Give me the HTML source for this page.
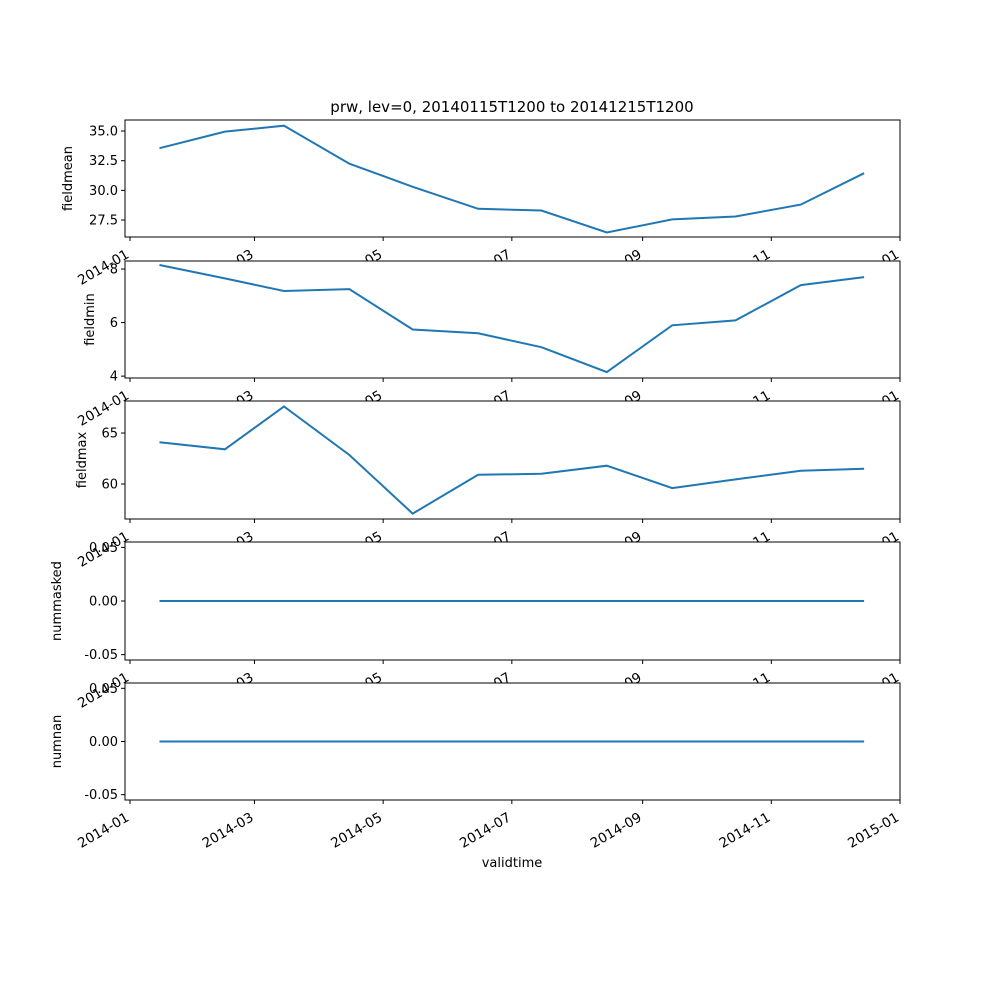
<!DOCTYPE html>
<html><head><meta charset="utf-8"><style>
body{margin:0;background:#fff}
svg{font-family:"DejaVu Sans","Liberation Sans",sans-serif}
</style></head><body>
<svg id="c" width="1000" height="1000"></svg>
<script>
const months=["2014-01-15","2014-02-15","2014-03-15","2014-04-15","2014-05-15","2014-06-15","2014-07-15","2014-08-15","2014-09-15","2014-10-15","2014-11-15","2014-12-15"];
const fieldmean=[33.55,34.95,35.45,32.25,30.3,28.45,28.3,26.45,27.55,27.8,28.8,31.45];
const fieldmin=[8.15,7.65,7.18,7.25,5.74,5.6,5.08,4.15,5.9,6.08,7.4,7.7];
const fieldmax=[64.1,63.4,67.6,62.85,57.1,60.9,61.0,61.8,59.6,60.45,61.3,61.5];
const nummasked=[0,0,0,0,0,0,0,0,0,0,0,0];
const numnan=[0,0,0,0,0,0,0,0,0,0,0,0];
const xTicks=["2014-01","2014-03","2014-05","2014-07","2014-09","2014-11","2015-01"];
const ns="http://www.w3.org/2000/svg";
const svg=document.getElementById('c');
function el(t,a,p){const e=document.createElementNS(ns,t);for(const k in a)e.setAttribute(k,a[k]);(p||svg).appendChild(e);return e;}
const t0=Date.UTC(2014,0,1),t1=Date.UTC(2015,0,1);
function X(d){const [y,m,dd]=d.split('-').map(Number);const t=Date.UTC(y,m-1,dd||1);return 130+(t-t0)/(t1-t0)*770;}
const panels=[
 {name:"fieldmean",data:fieldmean,top:120,bot:237,min:26.07,max:35.93,ticks:[27.5,30.0,32.5,35.0],fmt:v=>v.toFixed(1),lx:72},
 {name:"fieldmin",data:fieldmin,top:261,bot:378,min:3.93,max:8.3,ticks:[4,6,8],fmt:v=>String(v),lx:94},
 {name:"fieldmax",data:fieldmax,top:401,bot:519,min:56.57,max:68.14,ticks:[60,65],fmt:v=>String(v),lx:86},
 {name:"nummasked",data:nummasked,top:542,bot:660,min:-0.055,max:0.055,ticks:[-0.05,0,0.05],fmt:v=>v.toFixed(2),lx:61},
 {name:"numnan",data:numnan,top:683,bot:800,min:-0.055,max:0.055,ticks:[-0.05,0,0.05],fmt:v=>v.toFixed(2),lx:61}
];
const t=el('text',{x:512,y:112,'text-anchor':'middle','font-size':15});
t.textContent="prw, lev=0, 20140115T1200 to 20141215T1200";


panels.forEach((p,i)=>{
 const g=el('g',{});
 
 
 const Y=v=>p.bot-(v-p.min)/(p.max-p.min)*(p.bot-p.top);
 el('rect',{x:125,y:p.top,width:775,height:p.bot-p.top,fill:'#fff',stroke:'none'},g);
 const pts=p.data.map((v,j)=>X(months[j]).toFixed(1)+','+Y(v).toFixed(1)).join(' ');
 const line=el('polyline',{points:pts,fill:'none',stroke:'#1f77b4','stroke-width':2},g);
 
 
 el('rect',{x:125,y:p.top,width:775,height:p.bot-p.top,fill:'none',stroke:'#000','stroke-width':1},g);
 p.ticks.forEach(v=>{
  const y=Y(v);
  el('line',{x1:121,x2:125,y1:y,y2:y,stroke:'#000'},g);
  const tx=el('text',{x:118,y:y+4.5,'text-anchor':'end','font-size':13},g);tx.textContent=p.fmt(v);
  
  
 });
 xTicks.forEach(s=>{
  const x=X(s);
  el('line',{x1:x,x2:x,y1:p.bot,y2:p.bot+4,stroke:'#000'},g);
  const ax=x, ay=p.bot+20;
  const tx=el('text',{x:ax,y:ay,'text-anchor':'end','font-size':13.5,transform:`rotate(-30 ${ax} ${ay})`},g);
  tx.textContent=s;
  
  
 });
 const yl=el('text',{x:p.lx,y:(p.top+p.bot)/2,'text-anchor':'middle','font-size':13,transform:`rotate(-90 ${p.lx} ${(p.top+p.bot)/2})`},g);
 yl.textContent=p.name;
 
 
});
const xl=el('text',{x:512,y:867,'text-anchor':'middle','font-size':13});
xl.textContent="validtime";


</script>
</body></html>
